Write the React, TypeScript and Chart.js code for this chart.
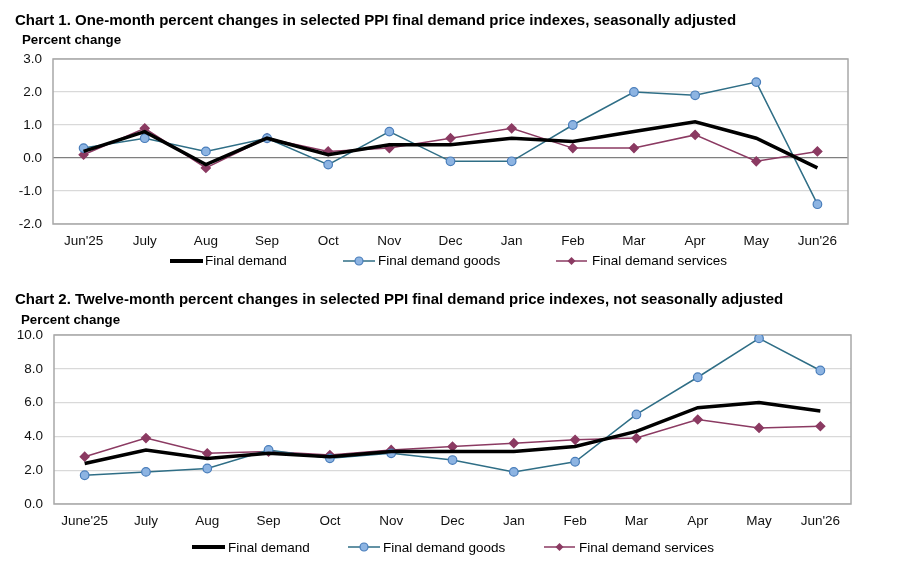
import React, { useEffect, useRef } from "react";
import { Chart, registerables } from "chart.js";

Chart.register(...registerables);

const months1 = ["Jun'25", "July", "Aug", "Sep", "Oct", "Nov", "Dec", "Jan", "Feb", "Mar", "Apr", "May", "Jun'26"];
const months2 = ["June'25", "July", "Aug", "Sep", "Oct", "Nov", "Dec", "Jan", "Feb", "Mar", "Apr", "May", "Jun'26"];

const fd1 = [0.2, 0.8, -0.2, 0.6, 0.1, 0.4, 0.4, 0.6, 0.5, 0.8, 1.1, 0.6, -0.3];
const goods1 = [0.3, 0.6, 0.2, 0.6, -0.2, 0.8, -0.1, -0.1, 1.0, 2.0, 1.9, 2.3, -1.4];
const services1 = [0.1, 0.9, -0.3, 0.6, 0.2, 0.3, 0.6, 0.9, 0.3, 0.3, 0.7, -0.1, 0.2];

const fd2 = [2.4, 3.2, 2.7, 3.0, 2.8, 3.1, 3.1, 3.1, 3.4, 4.3, 5.7, 6.0, 5.5];
const goods2 = [1.7, 1.9, 2.1, 3.2, 2.7, 3.0, 2.6, 1.9, 2.5, 5.3, 7.5, 9.8, 7.9];
const services2 = [2.8, 3.9, 3.0, 3.1, 2.9, 3.2, 3.4, 3.6, 3.8, 3.9, 5.0, 4.5, 4.6];

const FONT = "'Liberation Sans', Arial, sans-serif";
const GOODS_LINE = "#2F6E86";
const GOODS_FILL = "#8DB4E2";
const GOODS_BORDER = "#4A7EBB";
const SERV = "#8B3A62";

const framePlugin = {
  id: "frame",
  beforeDatasetsDraw(chart: any) {
    const { ctx, chartArea: a } = chart;
    ctx.save();
    ctx.strokeStyle = "#A8A8A8";
    ctx.lineWidth = 1.5;
    ctx.strokeRect(a.left, a.top, a.right - a.left, a.bottom - a.top);
    ctx.restore();
  },
};

type CP = {
  labels: string[];
  fd: number[];
  goods: number[];
  services: number[];
  min: number;
  max: number;
  step: number;
  width: number;
  height: number;
  pad: { top: number; right: number; left: number; bottom: number };
  yWidth: number;
  xHeight: number;
};

function LineChart(p: CP) {
  const ref = useRef<HTMLCanvasElement>(null);
  useEffect(() => {
    const chart = new Chart(ref.current as HTMLCanvasElement, {
      type: "line",
      data: {
        labels: p.labels,
        datasets: [
          {
            label: "Final demand",
            data: p.fd,
            borderColor: "#000000",
            borderWidth: 3.5,
            pointRadius: 0,
            tension: 0,
            order: 1,
          },
          {
            label: "Final demand goods",
            data: p.goods,
            borderColor: GOODS_LINE,
            borderWidth: 1.5,
            pointRadius: 4.3,
            pointBackgroundColor: GOODS_FILL,
            pointBorderColor: GOODS_BORDER,
            pointBorderWidth: 1.2,
            tension: 0,
            order: 2,
          },
          {
            label: "Final demand services",
            data: p.services,
            borderColor: SERV,
            borderWidth: 1.5,
            pointStyle: "rectRot",
            pointRadius: 4.3,
            pointBackgroundColor: SERV,
            pointBorderColor: SERV,
            tension: 0,
            order: 3,
          },
        ],
      },
      options: {
        animation: false,
        responsive: false,
        devicePixelRatio: 1,
        layout: { padding: p.pad },
        plugins: { legend: { display: false }, tooltip: { enabled: false } },
        scales: {
          x: {
            offset: true,
            grid: { display: false, drawTicks: false },
            border: { display: false },
            ticks: { font: { family: FONT, size: 13.5 }, color: "#111", padding: 9, maxRotation: 0, autoSkip: false },
            afterFit(s: any) {
              s.height = p.xHeight;
            },
          },
          y: {
            min: p.min,
            max: p.max,
            grid: {
              drawTicks: false,
              color: (c: any) => (c.tick && c.tick.value === 0 && p.min < 0 ? "#7F7F7F" : "#D9D9D9"),
              lineWidth: 1.2,
            },
            border: { display: false },
            ticks: {
              stepSize: p.step,
              font: { family: FONT, size: 13.5 },
              color: "#111",
              padding: 11,
              callback: (v: any) => Number(v).toFixed(1),
            },
            afterFit(s: any) {
              s.width = p.yWidth;
            },
          },
        },
      },
      plugins: [framePlugin],
    } as any);
    return () => chart.destroy();
  }, []);
  return <canvas ref={ref} width={p.width} height={p.height} style={{ display: "block", width: p.width, height: p.height }} />;
}

const textBase: React.CSSProperties = { position: "absolute", fontFamily: FONT, lineHeight: 1, whiteSpace: "nowrap", color: "#000" };

function Legend({ y, textTop, fd, goods, serv }: { y: number; textTop: number; fd: [number, number, number]; goods: [number, number, number]; serv: [number, number, number] }) {
  return (
    <>
      <svg style={{ position: "absolute", left: 0, top: 0 }} width={903} height={578}>
        <line x1={fd[0]} y1={y} x2={fd[1]} y2={y} stroke="#000" strokeWidth={4} />
        <line x1={goods[0]} y1={y} x2={goods[1]} y2={y} stroke={GOODS_LINE} strokeWidth={1.5} />
        <circle cx={(goods[0] + goods[1]) / 2} cy={y} r={4} fill={GOODS_FILL} stroke={GOODS_BORDER} strokeWidth={1.2} />
        <line x1={serv[0]} y1={y} x2={serv[1]} y2={y} stroke={SERV} strokeWidth={1.5} />
        <polygon
          points={`${(serv[0] + serv[1]) / 2},${y - 4} ${(serv[0] + serv[1]) / 2 + 4},${y} ${(serv[0] + serv[1]) / 2},${y + 4} ${(serv[0] + serv[1]) / 2 - 4},${y}`}
          fill={SERV}
        />
      </svg>
      <div style={{ ...textBase, left: fd[2], top: textTop, fontSize: 13.5 }}>Final demand</div>
      <div style={{ ...textBase, left: goods[2], top: textTop, fontSize: 13.5 }}>Final demand goods</div>
      <div style={{ ...textBase, left: serv[2], top: textTop, fontSize: 13.5 }}>Final demand services</div>
    </>
  );
}

export default function App() {
  return (
    <div style={{ position: "fixed", left: 0, top: 0, width: 903, height: 578, background: "#fff", overflow: "hidden" }}>
      <div style={{ position: "absolute", left: 0, top: 0 }}>
        <LineChart
          labels={months1}
          fd={fd1}
          goods={goods1}
          services={services1}
          min={-2}
          max={3}
          step={1}
          width={903}
          height={250}
          pad={{ top: 59, right: 55, left: 0, bottom: 0 }}
          yWidth={53}
          xHeight={26}
        />
      </div>
      <div style={{ position: "absolute", left: 0, top: 285 }}>
        <LineChart
          labels={months2}
          fd={fd2}
          goods={goods2}
          services={services2}
          min={0}
          max={10}
          step={2}
          width={903}
          height={250}
          pad={{ top: 50, right: 52, left: 0, bottom: 0 }}
          yWidth={54}
          xHeight={31}
        />
      </div>
      <div style={{ ...textBase, left: 15, top: 11.6, fontSize: 15, fontWeight: "bold" }}>
        Chart 1. One-month percent changes in selected PPI final demand price indexes, seasonally adjusted
      </div>
      <div style={{ ...textBase, left: 22, top: 33, fontSize: 13.3, fontWeight: "bold" }}>Percent change</div>
      <div style={{ ...textBase, left: 15, top: 291.3, fontSize: 15, fontWeight: "bold" }}>
        Chart 2. Twelve-month percent changes in selected PPI final demand price indexes, not seasonally adjusted
      </div>
      <div style={{ ...textBase, left: 21, top: 312.7, fontSize: 13.3, fontWeight: "bold" }}>Percent change</div>
      <Legend y={261} textTop={254.3} fd={[170, 203, 205]} goods={[343, 375, 378]} serv={[556, 587, 592]} />
      <Legend y={547} textTop={541} fd={[192, 225, 228]} goods={[348, 380, 383]} serv={[544, 575, 579]} />
    </div>
  );
}
